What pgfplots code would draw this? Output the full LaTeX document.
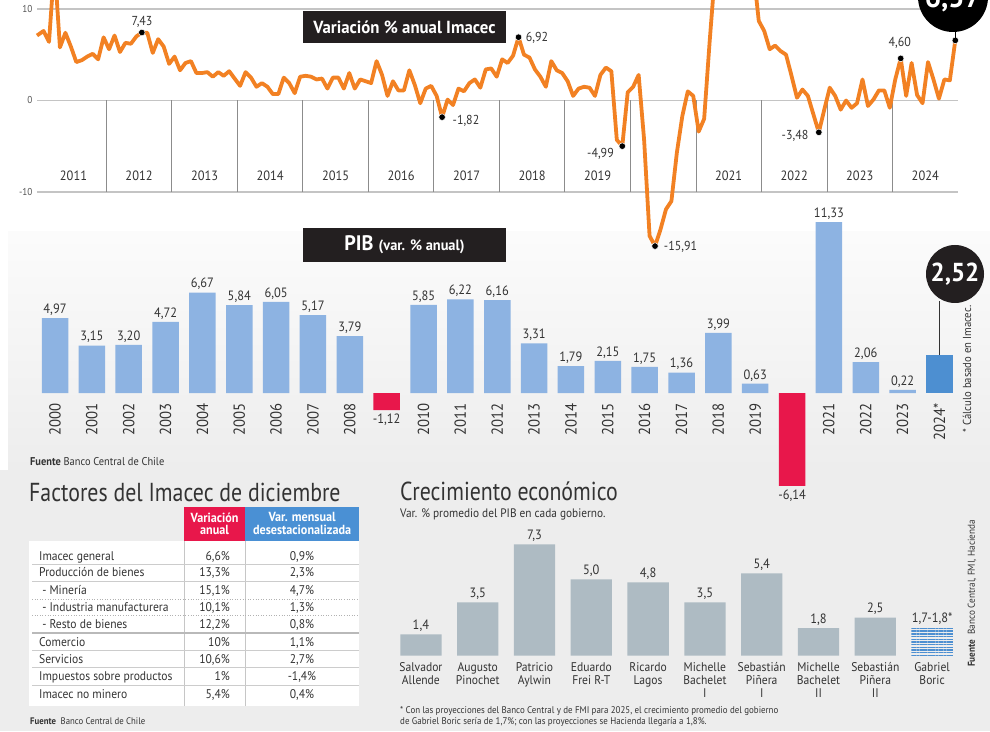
\documentclass[border=0pt]{standalone}
\usepackage{pgfplots}
\pgfplotsset{compat=1.18}
\usetikzlibrary{patterns.meta}
\usepackage{fontspec}
\setmainfont{PT Sans}[FakeStretch=0.92]
\newfontfamily\titlefont{PT Sans}[FakeStretch=0.84]
\newfontfamily\boxfont{PT Sans}[FakeStretch=0.96]
\newcommand\fs[2]{\fontsize{#1}{#2}\selectfont}
\definecolor{orangeline}{HTML}{F28123}
\definecolor{pibblue}{HTML}{8DB3E2}
\definecolor{pibdark}{HTML}{4D8FD1}
\definecolor{pibred}{HTML}{E8174B}
\definecolor{govgray}{HTML}{AEBBC3}
\definecolor{boricblue}{HTML}{4D8FD1}
\definecolor{hdrred}{HTML}{E8174B}
\definecolor{hdrblue}{HTML}{4A90D4}
\definecolor{txt}{HTML}{333333}
\definecolor{boxblack}{HTML}{231F20}
\definecolor{bggray}{HTML}{EDEDED}
\definecolor{gridg}{HTML}{C4C4C4}
\definecolor{vgrid}{HTML}{8C8C8C}
\pgfplotsset{/pgf/number format/assume math mode=true}
\newcommand\trow[4]{%
  \node[anchor=base west] at (39,#1) {#2};
  \node[anchor=base east] at (230,#1) {#3};
  \node[anchor=base] at (302,#1) {#4};}
\begin{document}
\begin{tikzpicture}[x=1pt,y=1pt]
% ---------- backgrounds
\fill[bggray] (0,0) rectangle (990,261);
\shade[top color=gray!3, bottom color=bggray] (8,261) rectangle (990,499);

% ---------- line chart: Imacec
\begin{axis}[at={(37pt,539pt)}, anchor=south west, scale only axis,
  width=921.3pt, height=183pt,
  xmin=-1.2, xmax=167.55, ymin=-10, ymax=10, clip=false,
  axis line style={draw=none}, xtick=\empty, ytick={-10,0,10},
  major tick length=0pt,
  ymajorgrids, grid style={gridg, line width=1.4pt},
  yticklabel style={font=\fs{10}{10}, text=txt!85, xshift=-1pt},
]
\draw[vgrid, line width=0.9pt]
  (axis cs:11.5,0) -- (axis cs:11.5,-10)
  (axis cs:23.5,0) -- (axis cs:23.5,-10)
  (axis cs:35.5,0) -- (axis cs:35.5,-10)
  (axis cs:47.5,0) -- (axis cs:47.5,-10)
  (axis cs:59.5,0) -- (axis cs:59.5,-10)
  (axis cs:71.5,0) -- (axis cs:71.5,-10)
  (axis cs:83.5,0) -- (axis cs:83.5,-10)
  (axis cs:95.5,0) -- (axis cs:95.5,-10)
  (axis cs:107.5,0) -- (axis cs:107.5,-10)
  (axis cs:119.5,0) -- (axis cs:119.5,-10)
  (axis cs:131.5,0) -- (axis cs:131.5,-10)
  (axis cs:143.5,0) -- (axis cs:143.5,-10)
  (axis cs:155.5,0) -- (axis cs:155.5,-10);
\addplot[orangeline, line width=3.8pt, line join=round, mark=none] coordinates {
(-1.2,7.1)(0,7.6)(1,6.4)(2,14.9)(3,5.8)(4,7.4)(5,5.9)(6,4.2)(7,4.4)(8,4.8)(9,5.1)(10,4.5)(11,6.9)
(12,5.6)(13,7.1)(14,5.3)(15,6.3)(16,6.2)(17,7.0)(18,7.43)(19,7.4)(20,5.2)(21,6.7)(22,5.9)(23,4.0)
(24,4.8)(25,3.3)(26,4.1)(27,4.3)(28,3.0)(29,3.0)(30,3.1)(31,2.6)(32,3.1)(33,2.7)(34,3.2)(35,2.4)
(36,1.6)(37,3.1)(38,2.5)(39,1.5)(40,1.9)(41,1.5)(42,0.7)(43,0.7)(44,2.5)(45,1.9)(46,0.8)(47,2.6)
(48,2.7)(49,2.6)(50,2.3)(51,2.4)(52,1.3)(53,2.5)(54,2.5)(55,1.3)(56,3.0)(57,1.3)(58,2.3)(59,2.1)
(60,1.9)(61,4.3)(62,2.8)(63,0.5)(64,2.1)(65,1.1)(66,1.1)(67,3.3)(68,1.7)(69,-0.3)(70,1.3)(71,1.6)
(72,0.5)(73,-1.82)(74,0.1)(75,-0.5)(76,1.3)(77,1.0)(78,1.9)(79,2.3)(80,1.4)(81,3.4)(82,3.5)(83,2.6)
(84,4.5)(85,4.1)(86,4.9)(87,6.92)(88,5.0)(89,4.7)(90,3.4)(91,2.6)(92,1.5)(93,4.3)(94,3.3)(95,3.0)
(96,2.1)(97,0.5)(98,1.3)(99,1.5)(100,1.4)(101,0.5)(102,2.8)(103,3.6)(104,3.2)(105,-4.3)(106,-4.99)(107,0.9)
(108,1.5)(109,2.8)(110,-4.3)(111,-14.8)(112,-15.91)(113,-14.1)(114,-11.9)(115,-11.0)(116,-5.7)(117,-1.7)(118,1.0)(119,0.5)
(120,-3.4)(121,-2.0)(122,6.4)(123,14.1)(124,18.1)(125,20.6)(126,18.1)(127,19.1)(128,15.6)(129,14.9)(130,14.3)(131,8.7)
(132,7.6)(133,5.6)(134,6.0)(135,5.4)(136,5.0)(137,2.7)(138,0.3)(139,1.2)(140,0.5)(141,-1.5)(142,-3.48)(143,-1.0)
(144,1.4)(145,0.5)(146,-1.0)(147,0.0)(148,-0.8)(149,-0.3)(150,2.3)(151,-0.6)(152,0.1)(153,1.1)(154,1.1)(155,-0.8)
(156,2.3)(157,4.60)(158,0.5)(159,4.1)(160,0.6)(161,-0.3)(162,4.2)(163,2.3)(164,0.2)(165,2.3)(166,2.2)(167,6.57)
};
\addplot[only marks, mark=*, mark size=3.3pt, mark options={fill=black, draw=white, line width=0.5pt}]
 coordinates {(18,7.43)(73,-1.82)(87,6.92)(106,-4.99)(112,-15.91)(142,-3.48)(157,4.60)(167,6.57)};
\end{axis}

% year labels of the line chart
\foreach \k/\yr in {0/2011,1/2012,2/2013,3/2014,4/2015,5/2016,6/2017,7/2018,8/2019,10/2021,11/2022,12/2023,13/2024}
  \node[anchor=base, font=\fs{13.5}{13.5}, text=txt, inner sep=0pt] at (73.5+65.52*\k, 550.5) {\yr};

% dot labels
\begin{scope}[every node/.style={font=\fs{13}{13}, text=txt, inner sep=0pt}]
\node at (142,709) {7,43};
\node at (466,610) {-1,82};
\node at (537,692.7) {6,92};
\node at (600.5,576.7) {-4,99};
\node at (680.5,484.3) {-15,91};
\node at (795,595) {-3,48};
\node at (899.7,688.3) {4,60};
\end{scope}

% title box line chart
\fill[boxblack] (303,688) rectangle (506,720);
\node[white, font=\boxfont\bfseries\fs{17.5}{17.5}] at (404.5,704) {Variación \% anual Imacec};

% 6,57 circle
\draw[black, line width=0.8pt] (955.3,689.3) -- (955.3,700);
\fill[black] (953,734) circle (35);
\node[white, font=\boxfont\bfseries\fs{30}{30}] at (953,732) {6,57};

% ---------- PIB bars
\begin{axis}[at={(36.6pt,239.6pt)}, anchor=south west, scale only axis,
  width=921.3pt, height=271.8pt,
  xmin=-0.5, xmax=24.5, ymin=-6.5, ymax=11.5, clip=false,
  axis line style={draw=none}, ticks=none,
  ybar, bar width=26.5pt, bar shift=0pt,
]
\addplot[fill=pibblue, draw=none, bar shift=0pt,
  nodes near coords={\pgfmathprintnumber[fixed,fixed zerofill,precision=2,use comma]{\pgfplotspointmeta}},
  every node near coord/.append style={font=\fs{13.5}{13.5}, text=txt, inner sep=2.5pt}]
 coordinates {(0,4.97)(1,3.15)(2,3.20)(3,4.72)(4,6.67)(5,5.84)(6,6.05)(7,5.17)(8,3.79)
 (10,5.85)(11,6.22)(12,6.16)(13,3.31)(14,1.79)(15,2.15)(16,1.75)(17,1.36)(18,3.99)(19,0.63)
 (21,11.33)(22,2.06)(23,0.22)};
\addplot[fill=pibred, draw=none, bar shift=0pt,
  nodes near coords={\pgfmathprintnumber[fixed,fixed zerofill,precision=2,use comma]{\pgfplotspointmeta}},
  every node near coord/.append style={font=\fs{13.5}{13.5}, text=txt, inner sep=4pt}]
 coordinates {(9,-1.12)(20,-6.14)};
\addplot[fill=pibdark, draw=none, bar shift=0pt] coordinates {(24,2.52)};
\end{axis}

% PIB year labels
\foreach \i/\yr in {0/2000,1/2001,2/2002,3/2003,4/2004,5/2005,6/2006,7/2007,8/2008,10/2010,11/2011,12/2012,13/2013,14/2014,15/2015,16/2016,17/2017,18/2018,19/2019,21/2021,22/2022,23/2023,24/2024*}
  \node[rotate=90, anchor=east, font=\fs{16}{16}, text=txt, inner sep=0pt] at (55+36.85*\i, 328) {\yr};

% PIB title box
\fill[boxblack] (303,469) rectangle (506,503);
\node[white, font=\boxfont\bfseries] at (404.5,486) {\fs{21}{21}PIB \fs{15}{15}(var. \% anual)};

% 2,52 circle
\draw[black!80, line width=0.8pt] (939.5,375.8) -- (939.5,430);
\fill[boxblack] (955,457) circle (29);
\node[white, font=\boxfont\bfseries\fs{26}{26}] at (955,457) {2,52};
\node[rotate=90, font=\fs{11.6}{11.6}, text=txt] at (967,362) {* Cálculo basado en Imacec.};

% Fuente PIB
\node[anchor=base west, font=\fs{11.3}{11.3}, text=txt, inner sep=0pt] at (30,265.5) {\textbf{Fuente} Banco Central de Chile};

% ---------- Table
\node[anchor=west, font=\titlefont\fs{26}{26}, text=txt, inner sep=0pt] at (29,239) {Factores del Imacec de diciembre};
\fill[hdrred] (184.3,190) rectangle (245,224.3);
\fill[hdrblue] (245,190) rectangle (359.3,224.3);
\node[white, font=\bfseries\fs{13.2}{12.8}, align=center] at (214.6,207.2) {Variación\\anual};
\node[white, font=\bfseries\fs{13.2}{12.8}, align=center] at (302.1,207.2) {Var. mensual\\desestacionalizada};
\fill[white] (29.3,25) rectangle (359.3,190);
\draw[gray!45, line width=0.7pt] (184.3,25) -- (184.3,190) (245,25) -- (245,190);
\draw[gray!40, line width=0.7pt] (32,166.7) -- (359,166.7) (32,149.3) -- (359,149.3)
   (32,81) -- (359,81) (32,63.3) -- (359,63.3) (32,46) -- (359,46);
\draw[gray!60, line width=0.6pt, dotted] (32,132) -- (359,132) (32,115.3) -- (359,115.3);
\draw[gray!55, line width=2pt] (32,98.3) -- (359,98.3);
\begin{scope}[every node/.style={font=\fs{12.6}{12.6}, text=txt, inner sep=0pt}]
\trow{170.8}{Imacec general}{6,6\%}{0,9\%}
\trow{154.1}{Producción de bienes}{13,3\%}{2,3\%}
\trow{136.8}{\ - Minería}{15,1\%}{4,7\%}
\trow{119.5}{\ - Industria manufacturera}{10,1\%}{1,3\%}
\trow{102.5}{\ - Resto de bienes}{12,2\%}{0,8\%}
\trow{84.5}{Comercio}{10\%}{1,1\%}
\trow{67.8}{Servicios}{10,6\%}{2,7\%}
\trow{50.1}{Impuestos sobre productos}{1\%}{-1,4\%}
\trow{32.8}{Imacec no minero}{5,4\%}{0,4\%}
\end{scope}
\node[anchor=base west, font=\fs{9.5}{9.5}, text=txt, inner sep=0pt] at (30,6.5) {\textbf{Fuente}\ \ Banco Central de Chile};

% ---------- Crecimiento economico
\node[anchor=west, font=\titlefont\fs{26}{26}, text=txt, inner sep=0pt] at (400,240) {Crecimiento económico};
\node[anchor=base west, font=\fs{12.3}{12.3}, text=txt, inner sep=0pt] at (400,213) {Var. \% promedio del PIB en cada gobierno.};
\begin{axis}[at={(392.5pt,75.3pt)}, anchor=south west, scale only axis,
  width=568pt, height=114.4pt,
  xmin=-0.5, xmax=9.5, ymin=0, ymax=7.5, clip=false,
  axis line style={draw=none}, ticks=none,
  ybar, bar width=41.3pt, bar shift=0pt,
]
\addplot[fill=govgray, draw=none, bar shift=0pt,
  nodes near coords={\pgfmathprintnumber[fixed,fixed zerofill,precision=1,use comma]{\pgfplotspointmeta}},
  every node near coord/.append style={font=\fs{13.5}{13.5}, text=txt, inner sep=3pt}]
 coordinates {(0,1.4)(1,3.5)(2,7.3)(3,5.0)(4,4.8)(5,3.5)(6,5.4)(7,1.8)(8,2.5)};
\addplot[draw=none, bar shift=0pt, pattern={Lines[angle=0,distance=2.7pt,line width=1.4pt]}, pattern color=boricblue]
 coordinates {(9,1.85)};
\node[anchor=south, font=\fs{13.5}{13.5}, text=txt, inner sep=3pt] at (axis cs:9,1.85) {1,7-1,8*};
\end{axis}
\foreach \i/\nm in {0/{Salvador\\Allende},1/{Augusto\\Pinochet},2/{Patricio\\Aylwin},3/{Eduardo\\Frei R-T},4/{Ricardo\\Lagos},5/{Michelle\\Bachelet\\I},6/{Sebastián\\Piñera\\I},7/{Michelle\\Bachelet\\II},8/{Sebastián\\Piñera\\II},9/{Gabriel\\Boric}}
  \node[anchor=north, align=center, font=\fs{12.6}{13.3}, text=txt, inner sep=0pt] at (420.9+56.8*\i, 69) {\nm};
\node[rotate=90, anchor=west, font=\fs{10}{10}, text=txt, inner sep=0pt] at (972,64) {\textbf{Fuente}\ \ Banco Central, FMI, Hacienda};
\node[anchor=base west, font=\fs{9.7}{11}, text=txt, inner sep=0pt] at (400,17.5) {* Con las proyecciones del Banco Central y de FMI para 2025, el crecimiento promedio del gobierno};
\node[anchor=base west, font=\fs{9.7}{11}, text=txt, inner sep=0pt] at (400,6.5) {de Gabriel Boric sería de 1,7\%; con las proyecciones se Hacienda llegaría a 1,8\%.};

\pgfresetboundingbox
\useasboundingbox (0,0) rectangle (990,731);
\end{tikzpicture}
\end{document}
